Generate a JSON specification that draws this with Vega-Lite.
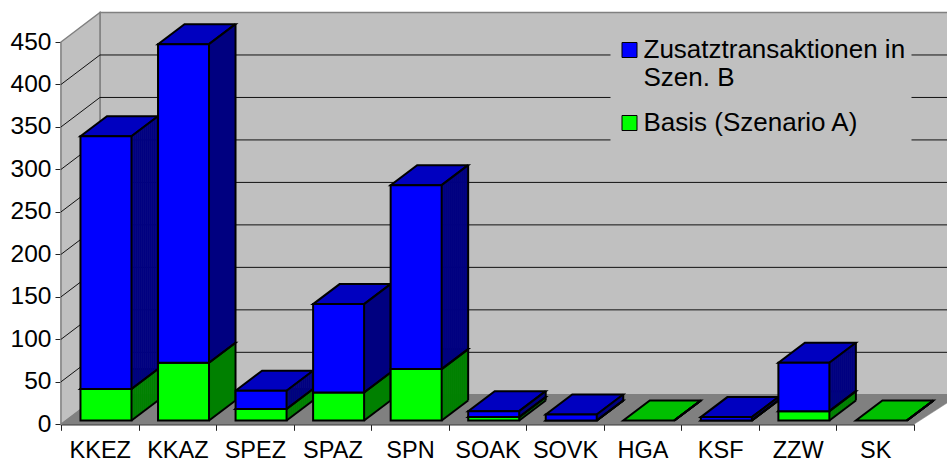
{
"$schema":"https://vega.github.io/schema/vega-lite/v6.json",
"autosize":"none","width":853,"height":382.3,
"padding":{"left":61,"top":42,"right":33,"bottom":38.7},
"background":"white",
"config":{"view":{"stroke":null},"font":"Liberation Sans"},
"data":{"values":[
{"cat":"KKEZ","series":"Basis (Szenario A)","value":37},
{"cat":"KKAZ","series":"Basis (Szenario A)","value":68},
{"cat":"SPEZ","series":"Basis (Szenario A)","value":13.5},
{"cat":"SPAZ","series":"Basis (Szenario A)","value":33},
{"cat":"SPN","series":"Basis (Szenario A)","value":60.5},
{"cat":"SOAK","series":"Basis (Szenario A)","value":4},
{"cat":"SOVK","series":"Basis (Szenario A)","value":0},
{"cat":"HGA","series":"Basis (Szenario A)","value":0},
{"cat":"KSF","series":"Basis (Szenario A)","value":0},
{"cat":"ZZW","series":"Basis (Szenario A)","value":11},
{"cat":"SK","series":"Basis (Szenario A)","value":0},
{"cat":"KKEZ","series":"Zusatztransaktionen in Szen. B","value":297.5},
{"cat":"KKAZ","series":"Zusatztransaktionen in Szen. B","value":375},
{"cat":"SPEZ","series":"Zusatztransaktionen in Szen. B","value":21.5},
{"cat":"SPAZ","series":"Zusatztransaktionen in Szen. B","value":104},
{"cat":"SPN","series":"Zusatztransaktionen in Szen. B","value":216.5},
{"cat":"SOAK","series":"Zusatztransaktionen in Szen. B","value":7},
{"cat":"SOVK","series":"Zusatztransaktionen in Szen. B","value":7},
{"cat":"HGA","series":"Zusatztransaktionen in Szen. B","value":0},
{"cat":"KSF","series":"Zusatztransaktionen in Szen. B","value":4},
{"cat":"ZZW","series":"Zusatztransaktionen in Szen. B","value":57},
{"cat":"SK","series":"Zusatztransaktionen in Szen. B","value":0}
]},
"transform":[{"stack":"value","groupby":["cat"],"sort":[{"field":"series","order":"ascending"}],"as":["y0","y1"]}],
"encoding":{
"x":{"field":"cat","type":"nominal","title":null,
 "scale":{"domain":["KKEZ","KKAZ","SPEZ","SPAZ","SPN","SOAK","SOVK","HGA","KSF","ZZW","SK"],"paddingInner":0,"paddingOuter":0},
 "axis":{"tickBand":"extent","labelAngle":0,"labelFontSize":23.5,"labelColor":"black","labelPadding":8,"tickSize":6,"tickColor":"#222","domainColor":"#333","domainWidth":1.5,"labelFlush":false,"labelOverlap":false,"labelLimit":90}},
"y":{"field":"y1","type":"quantitative","title":null,
 "scale":{"domain":[0,450],"nice":false},
 "axis":{"values":[0,50,100,150,200,250,300,350,400,450],"grid":false,"labelFontSize":24.5,"labelColor":"black","labelPadding":4,"tickSize":6,"tickColor":"#222","domainColor":"#666","domainWidth":1.5}}
},
"layer":[
{"data":{"values":[{"v":0}]},"mark":{"type":"point","filled":true,"opacity":1,"color":"#C0C0C0","stroke":"#808080","strokeWidth":1.5,"size":4,"shape":"M0.2,-29.5V-411.8H860V-29.5Z"},
 "encoding":{"x":{"datum":"KKEZ"},"y":{"field":"v","type":"quantitative"}}},
{"data":{"values":[{"v":0}]},"mark":{"type":"point","filled":true,"opacity":1,"color":"#C0C0C0","stroke":"#808080","strokeWidth":1.5,"size":4,"shape":"M-38.8,0V-382.3L0.2,-411.8V-29.5Z"},
 "encoding":{"x":{"datum":"KKEZ"},"y":{"field":"v","type":"quantitative"}}},
{"data":{"values":[{"v":0}]},"mark":{"type":"point","filled":true,"opacity":1,"color":"#808080","stroke":"#808080","strokeWidth":0.5,"size":4,"shape":"M-38.8,0L0.2,-29.5H860L814.2,0Z"},
 "encoding":{"x":{"datum":"KKEZ"},"y":{"field":"v","type":"quantitative"}}},
{"data":{"values":[{"v":50},{"v":100},{"v":150},{"v":200},{"v":250},{"v":300},{"v":350},{"v":400}]},
 "mark":{"type":"point","filled":false,"opacity":1,"stroke":"#111","strokeWidth":1,"size":4,"shape":"M-38.8,0L0.2,-29.5H860"},
 "encoding":{"x":{"datum":"KKEZ"},"y":{"field":"v","type":"quantitative"}}},
{"transform":[{"filter":"datum.value>0||datum.series=='Basis (Szenario A)'"}],
 "mark":{"type":"point","filled":true,"opacity":1,"stroke":"black","strokeWidth":2,"size":4,"shape":"M-19.3,-3.8L31.7,-3.8L58.2,-23.8L7.2,-23.8Z"},
 "encoding":{"fill":{"condition":{"test":"datum.series=='Basis (Szenario A)'","value":"#00C000"},"value":"#0000C0"}}},
{"transform":[{"filter":"datum.value>0"}],
 "encoding":{"y2":{"field":"y0"},"fill":{"condition":{"test":"datum.series=='Basis (Szenario A)'","value":"#008000"},"value":"#000080"}},
 "layer":[
 {"mark":{"type":"bar","width":2.6,"xOffset":32.7,"yOffset":-4.57,"y2Offset":-4.57}},
 {"mark":{"type":"bar","width":2.6,"xOffset":34.7,"yOffset":-6.11,"y2Offset":-6.11}},
 {"mark":{"type":"bar","width":2.6,"xOffset":36.7,"yOffset":-7.65,"y2Offset":-7.65}},
 {"mark":{"type":"bar","width":2.6,"xOffset":38.7,"yOffset":-9.19,"y2Offset":-9.19}},
 {"mark":{"type":"bar","width":2.6,"xOffset":40.7,"yOffset":-10.73,"y2Offset":-10.73}},
 {"mark":{"type":"bar","width":2.6,"xOffset":42.7,"yOffset":-12.27,"y2Offset":-12.27}},
 {"mark":{"type":"bar","width":2.6,"xOffset":44.7,"yOffset":-13.81,"y2Offset":-13.81}},
 {"mark":{"type":"bar","width":2.6,"xOffset":46.7,"yOffset":-15.35,"y2Offset":-15.35}},
 {"mark":{"type":"bar","width":2.6,"xOffset":48.7,"yOffset":-16.89,"y2Offset":-16.89}},
 {"mark":{"type":"bar","width":2.6,"xOffset":50.7,"yOffset":-18.43,"y2Offset":-18.43}},
 {"mark":{"type":"bar","width":2.6,"xOffset":52.7,"yOffset":-19.97,"y2Offset":-19.97}},
 {"mark":{"type":"bar","width":2.6,"xOffset":54.7,"yOffset":-21.51,"y2Offset":-21.51}},
 {"mark":{"type":"bar","width":2.6,"xOffset":56.7,"yOffset":-23.05,"y2Offset":-23.05}}
 ]},
{"transform":[{"filter":"datum.value>0"}],
 "mark":{"type":"bar","width":2,"xOffset":58.2,"yOffset":-23.8,"y2Offset":-23.8,"fill":"black"},
 "encoding":{"y2":{"field":"y0"}}},
{"mark":{"type":"point","filled":false,"opacity":1,"stroke":"black","strokeWidth":2,"size":4,"shape":"M31.7,-3.8L58.2,-23.8"}},
{"mark":{"type":"point","filled":false,"opacity":1,"stroke":"black","strokeWidth":2,"size":4,"shape":"M31.7,-3.8L58.2,-23.8"},
 "encoding":{"y":{"field":"y0","type":"quantitative"}}},
{"transform":[{"filter":"datum.value>0"}],
 "mark":{"type":"bar","width":51,"xOffset":6.2,"yOffset":-3.8,"y2Offset":-3.8,"stroke":"black","strokeWidth":2},
 "encoding":{"y2":{"field":"y0"},
 "color":{"field":"series","type":"nominal","scale":{"domain":["Zusatztransaktionen in Szen. B","Basis (Szenario A)"],"range":["#0000FF","#00FF00"]},
 "legend":{"title":null,"orient":"none","legendX":549.5,"legendY":-11,"fillColor":"#C0C0C0","padding":6,"symbolType":"square","symbolSize":225,"symbolStrokeColor":"black","symbolStrokeWidth":1,"symbolOpacity":1,"labelFontSize":26,"labelColor":"black","labelOffset":1,"labelLimit":300,"rowPadding":19,
 "labelExpr":"datum.label=='Zusatztransaktionen in Szen. B'?['Zusatztransaktionen in','Szen. B']:datum.label",
 "encoding":{"labels":{"update":{"lineHeight":{"value":31}}}}}}}}
]}
